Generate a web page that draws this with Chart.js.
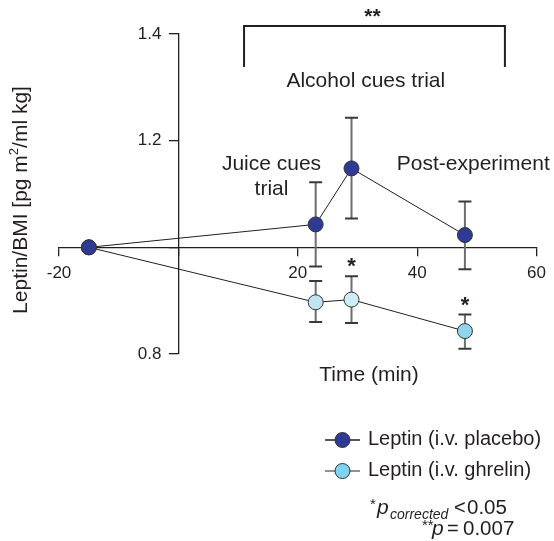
<!DOCTYPE html>
<html>
<head>
<meta charset="utf-8">
<script src="https://cdn.jsdelivr.net/npm/chart.js@4.4.1/dist/chart.umd.min.js"></script>
<style>
  html, body { margin: 0; padding: 0; background: #fff; }
  #wrap { width: 554px; height: 541px; }
</style>
</head>
<body>
<div id="wrap"><canvas id="leptinChart" width="554" height="541"></canvas></div>
<script>
// values (time in min, leptin/BMI)
const timePoints = [-15, 23, 29, 48];
const placeboMean = [1.0, 1.043, 1.148, 1.023];
const placeboHigh = [null, 1.122, 1.243, 1.086];
const placeboLow = [null, 0.964, 1.054, 0.959];
const ghrelinMean = [1.0, 0.897, 0.902, 0.843];
const ghrelinHigh = [null, 0.937, 0.946, 0.874];
const ghrelinLow = [null, 0.860, 0.858, 0.810];
const ghrelinStars = [false, false, true, true];
const seriesNames = ["Leptin (i.v. placebo)", "Leptin (i.v. ghrelin)"];
const xRange = [-20, 60];
const yRange = [0.8, 1.4];

const FONT = '"Liberation Sans", Arial, Helvetica, sans-serif';
const INK = "#231f20";
const PLACEBO_FILL = "#2e3a94";
const GHRELIN_FILLS = ["#2e3a94", "#bfe5f3", "#cdecf6", "#90d5ee"];
const GHRELIN_LEGEND = "#7fd3ee";
const ERR = "#6d6e71";

function toPoints(xs, ys) {
  return xs.map((x, i) => ({ x: x, y: ys[i] }));
}

function text(ctx, str, x, y, font, align, color) {
  ctx.font = font;
  ctx.fillStyle = color || INK;
  ctx.textAlign = align || "center";
  ctx.textBaseline = "middle";
  ctx.fillText(str, x, y);
}

// error bars behind the markers
const errorBars = {
  id: "errorBars",
  beforeDatasetsDraw(chart) {
    const ctx = chart.ctx, xs = chart.scales.x, ys = chart.scales.y;
    const groups = [[placeboHigh, placeboLow], [ghrelinHigh, ghrelinLow]];
    ctx.save();
    groups.forEach(([hi, lo]) => {
      timePoints.forEach((t, i) => {
        if (hi[i] == null) return;
        const px = xs.getPixelForValue(t);
        const top = ys.getPixelForValue(hi[i]);
        const bot = ys.getPixelForValue(lo[i]);
        ctx.strokeStyle = ERR;
        ctx.lineWidth = 2;
        ctx.beginPath();
        ctx.moveTo(px, top); ctx.lineTo(px, bot);
        ctx.stroke();
        ctx.strokeStyle = "#3a3a3c";
        ctx.beginPath();
        ctx.moveTo(px - 6.5, top); ctx.lineTo(px + 6.5, top);
        ctx.moveTo(px - 6.5, bot); ctx.lineTo(px + 6.5, bot);
        ctx.stroke();
      });
    });
    ctx.restore();
  }
};

const annotations = {
  id: "annotations",
  afterDraw(chart) {
    const ctx = chart.ctx, xs = chart.scales.x, ys = chart.scales.y;
    ctx.save();

    // y tick labels, left of the crossing axis (1.0 hidden by the x axis)
    const axisX = xs.getPixelForValue(0);
    ys.ticks.forEach(tk => {
      if (Math.abs(tk.value - 1) < 1e-6) return;
      text(ctx, tk.value.toFixed(1), axisX - 17, ys.getPixelForValue(tk.value), "17px " + FONT, "right");
    });

    // significance bracket
    const bx1 = xs.getPixelForValue(11), bx2 = xs.getPixelForValue(54.7);
    const byTop = ys.getPixelForValue(1.415), byBot = ys.getPixelForValue(1.338);
    ctx.strokeStyle = INK;
    ctx.lineWidth = 2;
    ctx.beginPath();
    ctx.moveTo(bx1, byBot); ctx.lineTo(bx1, byTop); ctx.lineTo(bx2, byTop); ctx.lineTo(bx2, byBot);
    ctx.stroke();
    text(ctx, "**", xs.getPixelForValue(32.5), ys.getPixelForValue(1.432), "bold 21px " + FONT);

    // phase labels
    const big = "21px " + FONT;
    text(ctx, "Alcohol cues trial", xs.getPixelForValue(31.4), ys.getPixelForValue(1.312), big);
    text(ctx, "Juice cues", xs.getPixelForValue(15.6), ys.getPixelForValue(1.156), big);
    text(ctx, "trial", xs.getPixelForValue(15.6), ys.getPixelForValue(1.109), big);
    text(ctx, "Post-experiment", xs.getPixelForValue(49.4), ys.getPixelForValue(1.156), big);

    // stars over ghrelin points
    timePoints.forEach((t, i) => {
      if (!ghrelinStars[i]) return;
      text(ctx, "*", xs.getPixelForValue(t), ys.getPixelForValue(ghrelinHigh[i]) - 9, "bold 22px " + FONT);
    });

    // axis titles
    text(ctx, "Time (min)", 369, 375, big);
    ctx.save();
    ctx.translate(21, 200);
    ctx.rotate(-Math.PI / 2);
    const parts = [["Leptin/BMI [pg m", big, 0], ["2", "13px " + FONT, -7], ["/ml kg]", big, 0]];
    let w = 0;
    parts.forEach(p => { ctx.font = p[1]; w += ctx.measureText(p[0]).width; });
    let cx = -w / 2;
    ctx.textAlign = "left"; ctx.textBaseline = "middle"; ctx.fillStyle = INK;
    parts.forEach(p => { ctx.font = p[1]; ctx.fillText(p[0], cx, p[2]); cx += ctx.measureText(p[0]).width; });
    ctx.restore();

    // legend
    const rows = [[seriesNames[0], PLACEBO_FILL, INK, 440], [seriesNames[1], GHRELIN_LEGEND, "#6d6e71", 471]];
    rows.forEach(([label, fill, lineCol, ly]) => {
      ctx.strokeStyle = lineCol;
      ctx.lineWidth = 1.5;
      ctx.beginPath(); ctx.moveTo(325, ly); ctx.lineTo(360, ly); ctx.stroke();
      ctx.beginPath(); ctx.arc(342.5, ly, 7.5, 0, Math.PI * 2);
      ctx.fillStyle = fill; ctx.fill();
      ctx.strokeStyle = "#333"; ctx.lineWidth = 1; ctx.stroke();
      text(ctx, label, 368, ly - 1, "20px " + FONT, "left");
    });

    // footnotes
    ctx.textAlign = "left"; ctx.textBaseline = "alphabetic"; ctx.fillStyle = INK;
    const notes = [
      ["*", "15px " + FONT, 370, 509], ["p", "italic 21px " + FONT, 377, 514],
      ["corrected", "italic 14px " + FONT, 390, 519], ["<", "20px " + FONT, 454, 514],
      ["0.05", "20.5px " + FONT, 467, 514],
      ["**", "15px " + FONT, 422, 530], ["p", "italic 21px " + FONT, 432, 535],
      ["=", "20px " + FONT, 447, 535], ["0.007", "20.5px " + FONT, 463, 535],
    ];
    notes.forEach(([s, f, nx, ny]) => { ctx.font = f; ctx.fillText(s, nx, ny); });

    ctx.restore();
  }
};

const ctx = document.getElementById("leptinChart").getContext("2d");

new Chart(ctx, {
  type: "scatter",
  data: {
    datasets: [
      {
        label: seriesNames[0],
        data: toPoints(timePoints, placeboMean),
        showLine: true,
        borderColor: INK,
        borderWidth: 1,
        pointRadius: 7.5,
        pointBackgroundColor: PLACEBO_FILL,
        pointBorderColor: "#333",
        pointBorderWidth: 1,
      },
      {
        label: seriesNames[1],
        data: toPoints(timePoints, ghrelinMean),
        showLine: true,
        borderColor: INK,
        borderWidth: 1,
        pointRadius: 7.5,
        pointBackgroundColor: GHRELIN_FILLS,
        pointBorderColor: "#333",
        pointBorderWidth: 1,
      },
    ],
  },
  options: {
    responsive: false,
    animation: false,
    devicePixelRatio: 1,
    layout: { padding: { left: 59, right: 17, top: 34, bottom: 187 } },
    plugins: { legend: { display: false }, tooltip: { enabled: false } },
    scales: {
      x: {
        type: "linear",
        min: xRange[0],
        max: xRange[1],
        position: { y: 1.0 },
        grid: { drawOnChartArea: false, drawTicks: true, tickLength: 8, color: INK, lineWidth: 1.3 },
        border: { display: true, color: INK, width: 1.3 },
        ticks: {
          stepSize: 20,
          padding: 8,
          color: INK,
          font: { family: FONT, size: 17 },
          callback: (v) => (v === 0 ? "" : v),
        },
      },
      y: {
        min: yRange[0],
        max: yRange[1],
        position: { x: 0 },
        grid: { drawOnChartArea: false, drawTicks: true, tickLength: 9, color: INK, lineWidth: 1.3 },
        border: { display: true, color: INK, width: 1.3 },
        ticks: { stepSize: 0.2, display: false },
      },
    },
  },
  plugins: [errorBars, annotations],
});
</script>
</body>
</html>
